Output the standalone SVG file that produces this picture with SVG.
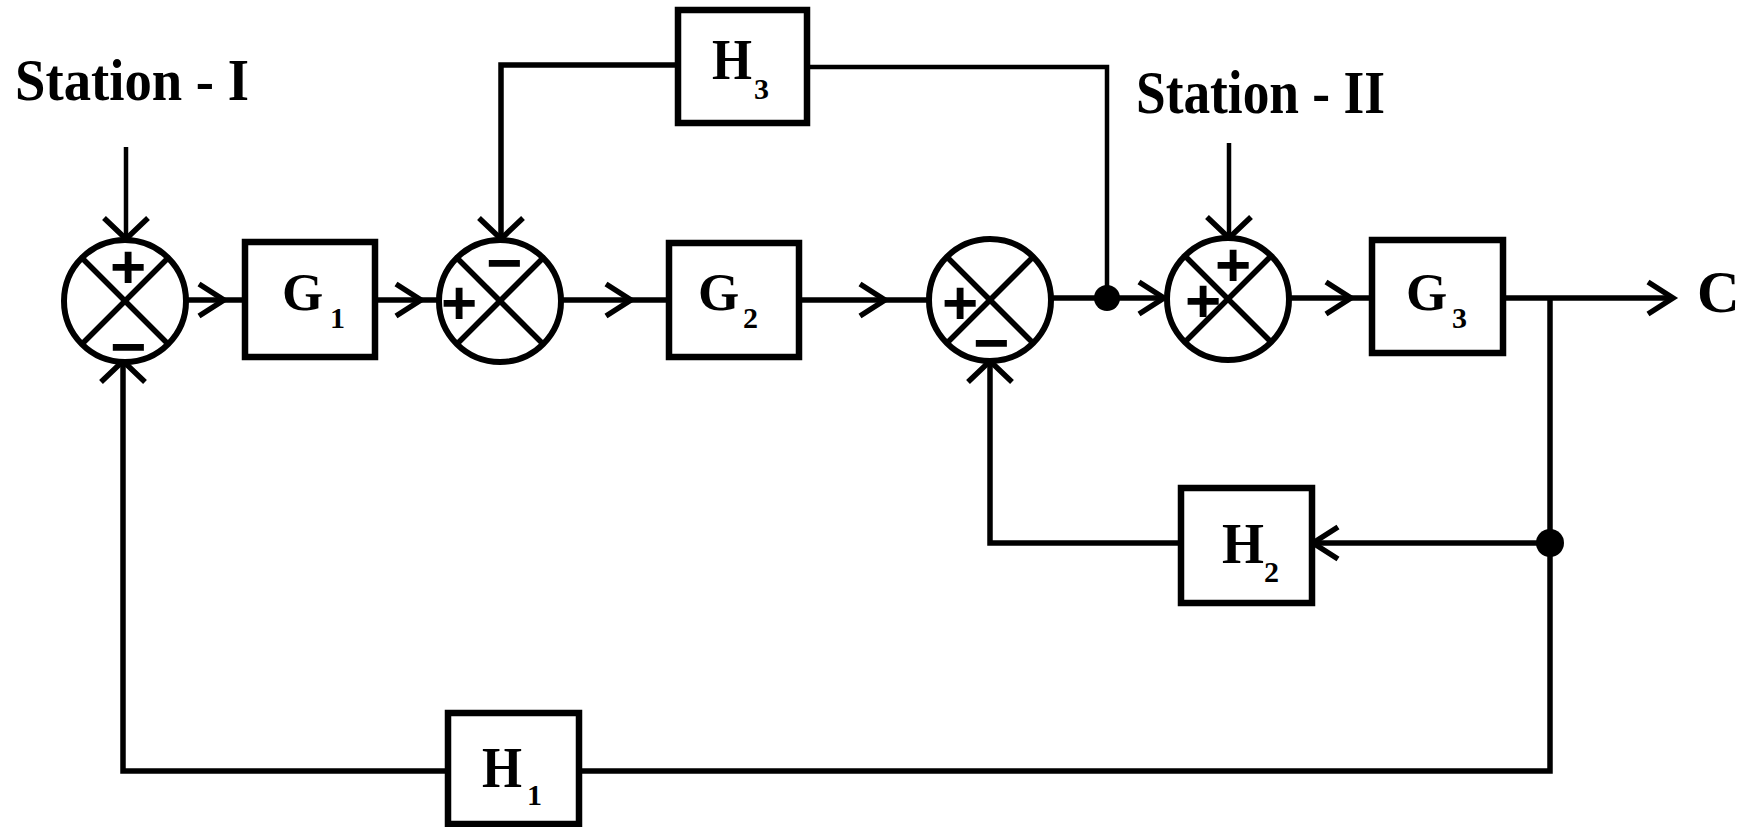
<svg xmlns="http://www.w3.org/2000/svg" width="1755" height="827" viewBox="0 0 1755 827">
<style>
.ln{fill:none;stroke:#000;stroke-width:5.5;stroke-linejoin:miter;stroke-linecap:butt}
.thin{stroke-width:4.5}
.box{fill:#fff;stroke:#000;stroke-width:6.5}
.sum{fill:#fff;stroke:#000;stroke-width:6}
.x{stroke:#000;stroke-width:5.5}
.lbl{font-family:"Liberation Serif","Times New Roman",serif;font-weight:bold;fill:#000}
.sub{font-family:"Liberation Serif","Times New Roman",serif;font-weight:bold;font-size:30px;fill:#000}
.sign{font-family:"Liberation Sans",Arial,sans-serif;font-weight:bold;text-anchor:middle;dominant-baseline:central;fill:#000;font-size:62px}
.dot{fill:#000}
</style>
<defs>
<marker id="ah" markerUnits="userSpaceOnUse" viewBox="-30 -30 40 60" refX="0" refY="0" markerWidth="40" markerHeight="60" orient="auto" overflow="visible">
<path d="M-25,-16 L0,0 L-25,16" fill="none" stroke="#000" stroke-width="5.5"/>
</marker>
<marker id="av" markerUnits="userSpaceOnUse" viewBox="-30 -30 40 60" refX="0" refY="0" markerWidth="40" markerHeight="60" orient="auto" overflow="visible">
<path d="M-21,-22 L0,0 L-21,22" fill="none" stroke="#000" stroke-width="5.5"/>
</marker>
</defs>
<rect width="1755" height="827" fill="#fff"/>

<g id="connectors">
<path class="ln thin" d="M126,147 V239" marker-end="url(#av)"/>
<path class="ln thin" d="M1229,143 V238" marker-end="url(#av)"/>
<path class="ln" d="M186,300 H224 H245" marker-mid="url(#ah)"/>
<path class="ln" d="M375,300 H421 H439" marker-mid="url(#ah)"/>
<path class="ln" d="M561,300 H631 H669" marker-mid="url(#ah)"/>
<path class="ln" d="M799,300 H885 H929" marker-mid="url(#ah)"/>
<path class="ln" d="M1051,298 H1164" marker-end="url(#ah)"/>
<path class="ln" d="M1289,298 H1351 H1372" marker-mid="url(#ah)"/>
<path class="ln" d="M1503,298 H1673" marker-end="url(#ah)"/>
<path class="ln" d="M1550,298 V771 H579"/>
<path class="ln" d="M448,771 H123 V361" marker-end="url(#av)"/>
<path class="ln" d="M1550,543 H1313" marker-end="url(#ah)"/>
<path class="ln" d="M1181,543 H990 V361" marker-end="url(#av)"/>
<path class="ln thin" d="M1107,298 V67 H807"/>
<path class="ln" d="M678,65 H501 V239" marker-end="url(#av)"/>
<circle class="dot" cx="1107" cy="298" r="13"/>
<circle class="dot" cx="1550" cy="543" r="14"/>
</g>

<g id="label-station1">
<text class="lbl" x="15" y="100" font-size="60" textLength="234" lengthAdjust="spacingAndGlyphs">Station - I</text>
</g>
<g id="label-station2">
<text class="lbl" x="1136" y="113" font-size="61" textLength="249" lengthAdjust="spacingAndGlyphs">Station - II</text>
</g>

<g id="sum1">
<circle class="sum" cx="125" cy="301" r="61"/>
<line class="x" x1="82" y1="258" x2="168" y2="344"/>
<line class="x" x1="168" y1="258" x2="82" y2="344"/>
<text class="sign" x="128" y="266">+</text>
<text class="sign" x="128" y="346">−</text>
</g>

<g id="G1">
<rect class="box" x="245" y="242" width="130" height="115"/>
<text class="lbl" x="282" y="310" font-size="53">G</text>
<text class="sub" x="330" y="328">1</text>
</g>

<g id="sum2">
<circle class="sum" cx="500" cy="301" r="61"/>
<line class="x" x1="457" y1="258" x2="543" y2="344"/>
<line class="x" x1="543" y1="258" x2="457" y2="344"/>
<text class="sign" x="459" y="302">+</text>
<text class="sign" x="504" y="262">−</text>
</g>

<g id="G2">
<rect class="box" x="669" y="243" width="130" height="114"/>
<text class="lbl" x="698" y="310" font-size="53">G</text>
<text class="sub" x="743" y="328">2</text>
</g>

<g id="H3">
<rect class="box" x="678" y="10" width="129" height="113"/>
<text class="lbl" x="712" y="79" font-size="58" textLength="40" lengthAdjust="spacingAndGlyphs">H</text>
<text class="sub" x="754" y="99">3</text>
</g>

<g id="sum3">
<circle class="sum" cx="990" cy="300" r="61"/>
<line class="x" x1="947" y1="257" x2="1033" y2="343"/>
<line class="x" x1="1033" y1="257" x2="947" y2="343"/>
<text class="sign" x="960" y="302">+</text>
<text class="sign" x="991" y="342">−</text>
</g>

<g id="sum4">
<circle class="sum" cx="1228" cy="299" r="61"/>
<line class="x" x1="1185" y1="256" x2="1271" y2="342"/>
<line class="x" x1="1271" y1="256" x2="1185" y2="342"/>
<text class="sign" x="1233" y="264">+</text>
<text class="sign" x="1203" y="300">+</text>
</g>

<g id="G3">
<rect class="box" x="1372" y="240" width="131" height="113"/>
<text class="lbl" x="1406" y="310" font-size="53">G</text>
<text class="sub" x="1452" y="328">3</text>
</g>

<g id="output-C">
<text class="lbl" x="1697" y="312" font-size="59">C</text>
</g>

<g id="H2">
<rect class="box" x="1181" y="488" width="131" height="115"/>
<text class="lbl" x="1222" y="563" font-size="58" textLength="42" lengthAdjust="spacingAndGlyphs">H</text>
<text class="sub" x="1264" y="582">2</text>
</g>

<g id="H1">
<rect class="box" x="448" y="713" width="131" height="111"/>
<text class="lbl" x="482" y="787" font-size="58" textLength="40" lengthAdjust="spacingAndGlyphs">H</text>
<text class="sub" x="527" y="805">1</text>
</g>
</svg>
